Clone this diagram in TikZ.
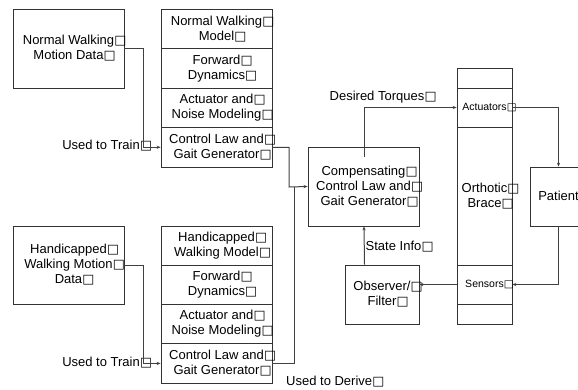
\documentclass[tikz,border=0pt]{standalone}
\usepackage{fontspec}
\setmainfont{Liberation Sans}
\newfontfamily\djv{DejaVu Sans}
\usetikzlibrary{arrows.meta}
\newcommand{\nd}{\rlap{\kern0.2pt{\djv\fontsize{0.98em}{1em}\selectfont □}}}
\tikzset{
  blk/.style={draw=black!80, line width=0.8pt, rectangle, inner sep=0pt, align=center,
    font=\fontsize{13}{15}\selectfont},
  lbl/.style={inner sep=0pt, font=\fontsize{13}{15}\selectfont},
  small/.style={font=\fontsize{10.5}{12}\selectfont},
  conn/.style={draw=black!75, line width=1pt, -{Stealth[length=4pt,width=3.2pt]}},
  plain/.style={draw=black!75, line width=1pt}
}
\begin{document}
\begin{tikzpicture}[x=1pt,y=-1pt]
\useasboundingbox (0,0) rectangle (578,389);
% left data boxes
\node[blk, minimum width=111pt, minimum height=79pt] (nd) at (68.5,48.5) {Normal Walking\nd\\Motion Data\nd};
\node[blk, minimum width=111pt, minimum height=78pt] (hd) at (68.5,265) {Handicapped\nd\\Walking Motion\nd\\Data\nd};
% stack 1
\node[blk, minimum width=111pt, minimum height=39.5pt] (s1a) at (216.5,28.75) {Normal Walking\nd\\Model\nd};
\node[blk, minimum width=111pt, minimum height=39.5pt] (s1b) at (216.5,68.25) {Forward\nd\\Dynamics\nd};
\node[blk, minimum width=111pt, minimum height=39.5pt] (s1c) at (216.5,107.75) {Actuator and\nd\\Noise Modeling\nd};
\node[blk, minimum width=111pt, minimum height=39.5pt] (s1d) at (216.5,147.25) {Control Law and\nd\\Gait Generator\nd};
% stack 2
\node[blk, minimum width=111pt, minimum height=39.25pt] (s2a) at (216.5,245.6) {Handicapped\nd\\Walking Model\nd};
\node[blk, minimum width=111pt, minimum height=39.25pt] (s2b) at (216.5,284.9) {Forward\nd\\Dynamics\nd};
\node[blk, minimum width=111pt, minimum height=39.25pt] (s2c) at (216.5,324.1) {Actuator and\nd\\Noise Modeling\nd};
\node[blk, minimum width=111pt, minimum height=39.25pt] (s2d) at (216.5,363.4) {Control Law and\nd\\Gait Generator\nd};
% compensating
\node[blk, minimum width=111pt, minimum height=79pt] (comp) at (363.5,186.5) {Compensating\nd\\Control Law and\nd\\Gait Generator\nd};
% observer
\node[blk, minimum width=74pt, minimum height=59pt] (obs) at (382,294.5) {Observer/\nd\\Filter\nd};
% brace column
\node[blk, minimum width=55pt, minimum height=256pt] (brace) at (484.5,196) {Orthotic\nd\\Brace\nd};
\node[blk, small, minimum width=55pt, minimum height=39pt] (act) at (484.5,107.5) {Actuators\nd};
\node[blk, small, minimum width=55pt, minimum height=39pt] (sens) at (484.5,284.5) {Sensors\nd};
% patient
\node[blk, minimum width=57pt, minimum height=59pt] (pat) at (558.5,196.5) {Patient\nd};
% labels
\node[lbl, anchor=east] (ut1) at (140,146) {Used to Train\nd};
\node[lbl, anchor=east] (ut2) at (140,363) {Used to Train\nd};
\node[lbl, anchor=west] (ud) at (286,382) {Used to Derive\nd};
\node[lbl] (dt) at (377,97) {Desired Torques\nd};
\node[lbl, anchor=west] (si) at (365.5,247) {State Info\nd};
% connectors
\coordinate (j1) at (289,187);
\coordinate (j2) at (294,187);
\draw[conn] (nd.east) -- (143,48.5) |- (s1d.west);
\draw[conn] (hd.east) -- (143,265) |- (s2d.west);
\draw[conn] (s1d.east) -| (j1) -- (comp.west);
\draw[plain] (s2d.east) -| (j2);
\draw[conn] ([xshift=0.5pt,yshift=-10pt]comp.north) |- (act.west);
\draw[conn] (act.east) -| (pat.north);
\draw[conn] (pat.south) |- (sens.east);
\draw[conn] (sens.west) -- (obs.east |- sens.west);
\draw[conn] ([xshift=-17.5pt]obs.north) -- ([xshift=0.5pt]comp.south);
\end{tikzpicture}
\end{document}
